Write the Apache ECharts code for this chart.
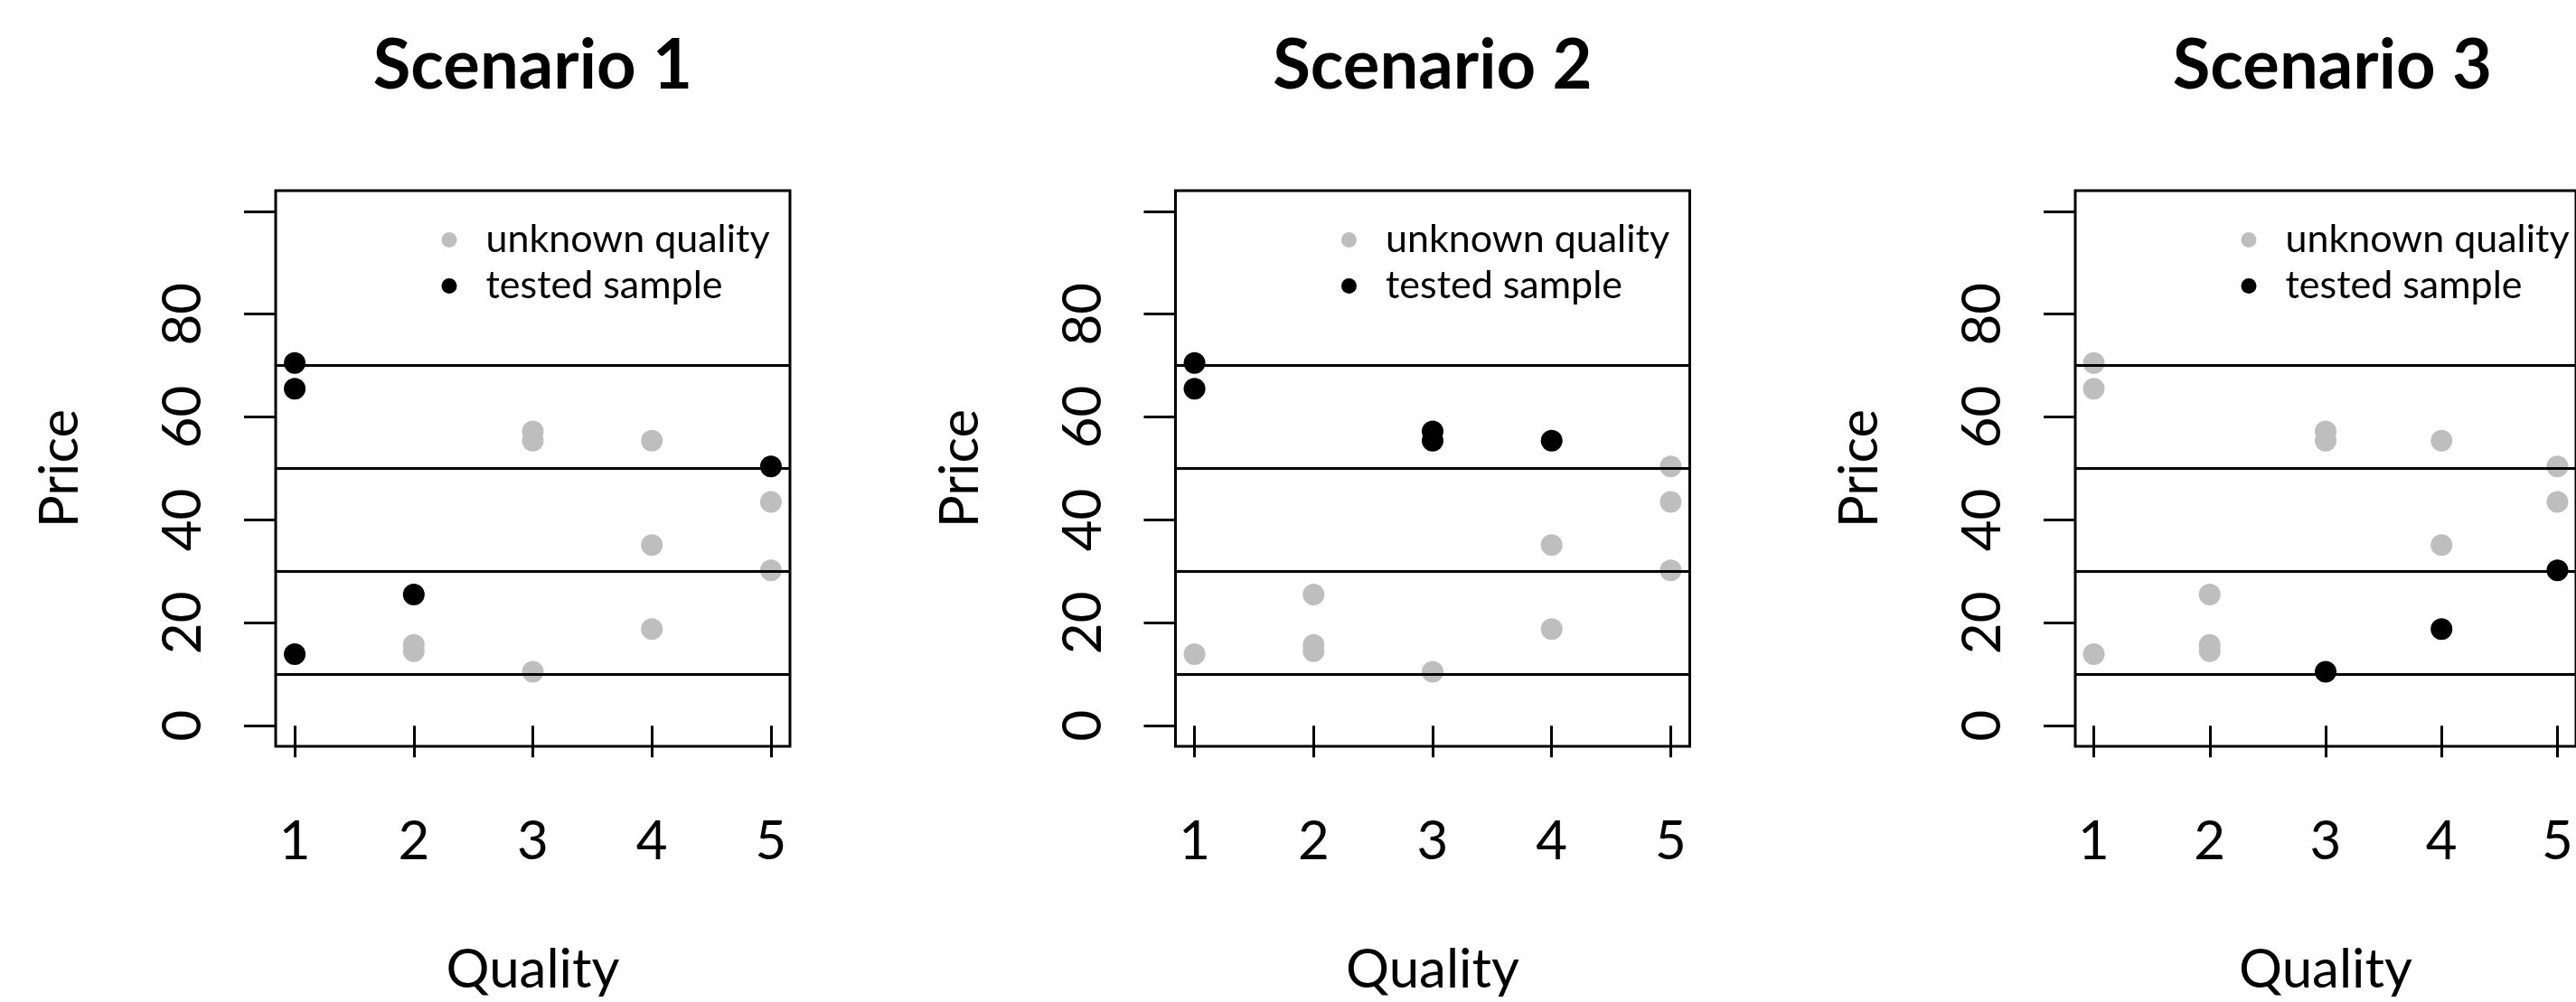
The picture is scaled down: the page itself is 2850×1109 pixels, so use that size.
<!DOCTYPE html>
<html><head><meta charset="utf-8">
<script src="https://cdn.jsdelivr.net/npm/echarts@6/dist/echarts.min.js"></script>
<style>html,body{margin:0;padding:0;background:#fff}#c{width:2850px;height:1109px}</style>
</head><body><div id="c"></div>
<script>
// ---- data ----
const scenarios = ['Scenario 1', 'Scenario 2', 'Scenario 3'];
const quality = [1, 1, 1, 2, 2, 2, 3, 3, 3, 4, 4, 4, 5, 5, 5];
const price = [70.5, 65.5, 13.9, 25.5, 15.7, 14.5, 57.2, 55.4, 10.5, 55.4, 35.1, 18.8, 50.4, 43.5, 30.2];
const testedS1 = [1, 1, 1, 1, 0, 0, 0, 0, 0, 0, 0, 0, 1, 0, 0];
const testedS2 = [1, 1, 0, 0, 0, 0, 1, 1, 0, 1, 0, 0, 0, 0, 0];
const testedS3 = [0, 0, 0, 0, 0, 0, 0, 0, 1, 0, 0, 1, 0, 0, 1];
const cutoffs = [10, 30, 50, 70];
const xTicks = [1, 2, 3, 4, 5];
const yTicks = [0, 20, 40, 60, 80, 100];
const yTickLabels = [0, 20, 40, 60, 80];
const legendNames = ['unknown quality', 'tested sample'];
const xName = 'Quality';
const yName = 'Price';

// ---- layout / style ----
const tested = [testedS1, testedS2, testedS3];
const PANEL_STEP = 995.5, BOX_L = 305, BOX_T = 211, BOX_W = 569, BOX_H = 625;
const GRAY = '#BEBEBE', BLACK = '#000000';
const FONT = 'Lato, "Liberation Sans", sans-serif';

const option = { animation: false, title: [], legend: [], grid: [], xAxis: [], yAxis: [], series: [] };

scenarios.forEach((name, i) => {
  const left = BOX_L + PANEL_STEP * i;
  option.title.push({
    text: name, left: left + BOX_W / 2, top: 35, textAlign: 'center', padding: 0,
    textStyle: { fontFamily: FONT, fontWeight: 'bold', fontSize: 76, color: BLACK }
  });
  option.legend.push({
    data: legendNames, left: left + 183.5, top: 244, orient: 'vertical', padding: 0,
    itemGap: 8, itemWidth: 17, itemHeight: 17, icon: 'circle', selectedMode: false,
    itemStyle: { opacity: 1 },
    textStyle: { fontFamily: FONT, fontSize: 43, color: BLACK, padding: [0, 0, 0, 27] }
  });
  option.grid.push({
    left: left, top: BOX_T, width: BOX_W, height: BOX_H, show: true,
    borderColor: BLACK, borderWidth: 3, backgroundColor: 'transparent'
  });
  option.xAxis.push({
    gridIndex: i, type: 'value', min: 0.84, max: 5.16,
    axisLine: { show: false }, splitLine: { show: false },
    axisTick: { show: true, length: 35, customValues: xTicks, lineStyle: { color: BLACK, width: 3 } },
    axisLabel: { customValues: xTicks, fontFamily: FONT, fontSize: 60, color: BLACK, margin: 76 },
    name: xName, nameLocation: 'middle', nameGap: 218,
    nameTextStyle: { fontFamily: FONT, fontSize: 60, color: BLACK }
  });
  option.yAxis.push({
    gridIndex: i, type: 'value', min: -4, max: 104,
    axisLine: { show: false }, splitLine: { show: false },
    axisTick: { show: true, length: 35, customValues: yTicks, lineStyle: { color: BLACK, width: 3 } },
    axisLabel: { customValues: yTickLabels, rotate: 90, fontFamily: FONT, fontSize: 60, color: BLACK, margin: 72 },
    name: yName, nameLocation: 'middle', nameGap: 208,
    nameTextStyle: { fontFamily: FONT, fontSize: 60, color: BLACK }
  });
  const t = tested[i];
  const grayData = [], blackData = [];
  quality.forEach((q, k) => (t[k] ? blackData : grayData).push([q, price[k]]));
  option.series.push({
    name: legendNames[0], type: 'scatter', xAxisIndex: i, yAxisIndex: i,
    data: grayData, symbolSize: 24, itemStyle: { color: GRAY, opacity: 1 }, z: 2, silent: true,
    markLine: {
      silent: true, symbol: ['none', 'none'], label: { show: false },
      lineStyle: { color: BLACK, width: 3, type: 'solid', opacity: 1 },
      data: cutoffs.map(v => ({ yAxis: v }))
    }
  });
  option.series.push({
    name: legendNames[1], type: 'scatter', xAxisIndex: i, yAxisIndex: i,
    data: blackData, symbolSize: 24, itemStyle: { color: BLACK, opacity: 1 }, z: 3, silent: true
  });
});

const chart = echarts.init(document.getElementById('c'), null, { renderer: 'canvas' });
chart.setOption(option);
</script>
</body></html>
